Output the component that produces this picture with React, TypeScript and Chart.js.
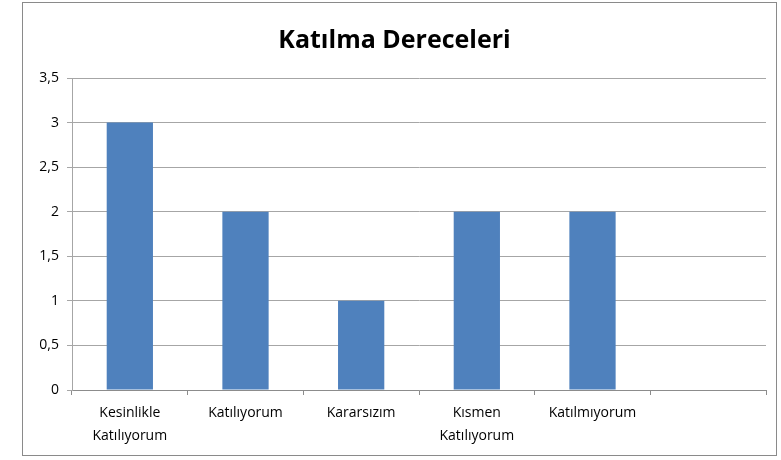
import React, { useEffect, useRef } from "react";
import { Chart, registerables } from "chart.js";

Chart.register(...registerables);

const categories: (string | string[])[] = [
  ["Kesinlikle", "Katılıyorum"],
  "Katılıyorum",
  "Kararsızım",
  ["Kısmen", "Katılıyorum"],
  "Katılmıyorum",
  "",
];
const values: (number | null)[] = [3, 2, 1, 2, 2, null];
const titleText = "Katılma Dereceleri";
const yMin = 0;
const yMax = 3.5;
const yStep = 0.5;

export default function App() {
  const ref = useRef<HTMLCanvasElement | null>(null);
  useEffect(() => {
    if (!ref.current) return;
    const font = "'Open Sans', 'Noto Sans', sans-serif";
    const chart = new Chart(ref.current, {
      type: "bar",
      data: {
        labels: categories,
        datasets: [
          {
            data: values,
            backgroundColor: "#4F81BD",
            borderWidth: 0,
            barPercentage: 0.4,
            categoryPercentage: 1,
          },
        ],
      },
      options: {
        animation: false,
        responsive: false,
        maintainAspectRatio: false,
        layout: { padding: { left: 0, right: 10, top: 0, bottom: 0 } },
        plugins: {
          legend: { display: false },
          tooltip: { enabled: false },
          title: {
            display: true,
            text: titleText,
            color: "#000",
            font: { family: font, size: 25, weight: "bold" },
            padding: { top: 23, bottom: 22 },
          },
        },
        scales: {
          x: {
            offset: true,
            grid: {
              offset: true,
              drawOnChartArea: false,
              drawTicks: true,
              tickLength: 5,
              color: "#8c8c8c",
            },
            border: { display: true, color: "#8c8c8c" },
            ticks: {
              color: "#000",
              font: { family: font, size: 14, lineHeight: 1.65 },
              padding: 6,
              maxRotation: 0,
              autoSkip: false,
            },
            afterFit: (s: any) => {
              s.height = 65;
            },
          },
          y: {
            min: yMin,
            max: yMax,
            ticks: {
              stepSize: yStep,
              color: "#000",
              font: { family: font, size: 14 },
              padding: 8,
              callback: (v: any) => String(v).replace(".", ","),
            },
            grid: { color: "#a6a6a6", tickLength: 5, drawTicks: true },
            border: { display: true, color: "#a6a6a6" },
            afterFit: (s: any) => {
              s.width = 49;
            },
          },
        },
      },
    });
    return () => chart.destroy();
  }, []);
  return (
    <div
      style={{
        position: "absolute",
        left: 22,
        top: 2,
        width: 753,
        height: 452,
        border: "1px solid #8a8a8a",
        background: "#fff",
      }}
    >
      <canvas ref={ref} width={753} height={452} style={{ display: "block" }} />
    </div>
  );
}
